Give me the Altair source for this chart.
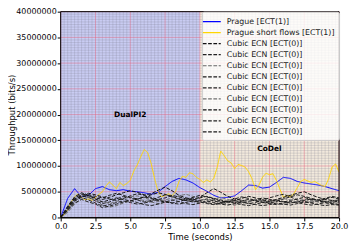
import altair as alt
import pandas as pd

# sample times
t_half = [i * 0.5 for i in range(41)]
t_quarter = [i * 0.25 for i in range(81)]

# throughput values in Mbit/s
prague = [0, 3.7, 5.6, 4.0, 4.3, 5.6, 6.0, 5.4, 5.2, 5.4, 5.1, 5.0, 4.8, 4.5, 4.9,
          6.0, 7.0, 7.6, 7.3, 6.7, 5.8, 5.1, 4.3, 3.8, 3.9, 4.2, 5.2, 6.3, 6.2, 5.7,
          5.9, 6.8, 7.8, 7.6, 7.0, 6.7, 6.5, 6.3, 6.0, 5.6, 5.2]
short_flows = [0, 0.5, 1.5, 3.0, 4.0, 4.6, 4.0, 3.4, 3.6, 3.3, 3.9, 4.5, 5.0, 6.1, 6.9,
               6.3, 5.6, 6.8, 6.2, 6.6, 7.2, 9.0, 10.2, 11.8, 13.2, 12.6, 10.5, 7.5, 5.0,
               4.0, 4.3, 4.6, 4.2, 5.0, 7.0, 8.0, 7.8, 8.7, 8.5, 7.8, 7.4, 6.8, 7.3, 6.9,
               7.6, 9.8, 12.9, 12.0, 11.0, 10.6, 9.5, 10.3, 10.1, 9.8, 8.9, 7.5, 5.4, 6.3,
               7.8, 8.6, 8.3, 8.5, 7.2, 5.5, 3.9, 4.3, 4.0, 4.6, 5.8, 7.0, 7.4, 7.1, 6.8,
               7.0, 6.6, 6.2, 6.0, 7.5, 9.8, 10.4, 8.8]
cubic = [
    [0, 2.0, 3.8, 4.5, 4.2, 3.8, 3.5, 3.9, 4.4, 4.8, 5.2, 4.9, 4.4, 4.6, 5.3, 5.9, 5.2, 4.3, 3.8, 3.6,
     3.9, 4.8, 5.6, 4.9, 4.1, 3.6, 3.3, 3.1, 3.4, 3.8, 3.5, 3.2, 3.0, 3.3, 3.6, 3.9, 3.5, 3.2, 3.0, 3.2, 3.4],
    [0, 1.6, 3.4, 4.2, 3.9, 3.2, 2.7, 3.0, 3.6, 4.1, 3.8, 3.4, 3.0, 3.3, 3.9, 4.4, 4.1, 3.6, 3.3, 3.5,
     3.2, 2.9, 2.6, 2.8, 3.1, 3.3, 3.0, 2.7, 2.9, 3.4, 3.8, 4.2, 4.5, 4.0, 3.4, 3.1, 2.9, 3.2, 3.6, 3.9, 3.6],
    [0, 1.2, 3.0, 4.6, 4.0, 3.3, 2.4, 2.0, 2.3, 2.8, 3.2, 3.5, 3.3, 3.0, 2.7, 2.9, 3.3, 3.7, 3.5, 3.1,
     2.8, 3.0, 3.3, 3.0, 2.6, 2.4, 2.7, 3.1, 3.4, 3.2, 2.9, 2.6, 2.5, 2.8, 3.2, 3.5, 3.3, 3.0, 2.8, 2.6, 2.9],
    [0, 1.8, 3.6, 4.0, 4.4, 4.1, 3.8, 4.3, 4.7, 4.3, 3.9, 3.6, 3.9, 4.4, 4.8, 4.5, 4.0, 3.6, 3.3, 3.0,
     3.3, 3.6, 3.2, 2.9, 3.2, 3.6, 4.0, 3.7, 3.3, 3.0, 2.8, 3.1, 3.6, 4.0, 4.4, 4.1, 3.7, 3.4, 3.7, 4.1, 3.8],
    [0, 1.4, 3.2, 3.9, 3.4, 2.8, 2.2, 2.5, 2.9, 3.2, 2.9, 2.6, 2.8, 3.1, 3.5, 3.2, 2.8, 2.6, 2.9, 3.3,
     3.0, 2.7, 2.5, 2.7, 3.0, 2.8, 2.5, 2.3, 2.6, 2.9, 2.7, 2.5, 2.8, 3.1, 2.9, 2.6, 2.4, 2.6, 2.9, 2.7, 2.5],
    [0, 1.0, 2.6, 3.6, 3.9, 3.5, 3.1, 2.7, 3.1, 3.6, 4.0, 4.2, 3.8, 3.4, 3.1, 3.4, 3.8, 4.2, 4.5, 4.1,
     3.6, 3.3, 3.6, 3.9, 3.5, 3.1, 2.9, 3.2, 3.6, 3.3, 3.0, 3.3, 3.7, 3.4, 3.0, 2.8, 3.1, 3.4, 3.2, 3.0, 3.3],
    [0, 2.2, 4.0, 4.8, 4.3, 3.6, 3.0, 3.4, 3.8, 3.5, 3.2, 3.6, 4.0, 3.7, 3.3, 3.0, 2.8, 3.1, 3.5, 3.9,
     4.3, 4.0, 3.6, 3.2, 3.0, 3.3, 3.7, 4.1, 3.8, 3.4, 3.2, 3.5, 3.9, 4.3, 4.7, 5.0, 4.4, 3.9, 3.5, 3.3, 3.1],
    [0, 1.5, 2.8, 3.5, 3.0, 2.6, 1.9, 2.2, 2.6, 3.0, 3.3, 2.9, 2.5, 2.3, 2.6, 3.0, 3.4, 3.1, 2.7, 2.5,
     2.8, 3.2, 2.9, 2.6, 2.4, 2.7, 3.0, 2.8, 2.5, 2.3, 2.5, 2.8, 2.6, 2.4, 2.7, 3.0, 2.8, 2.5, 2.3, 2.5, 2.4],
    [0, 1.9, 3.5, 4.3, 4.7, 4.4, 4.0, 3.6, 3.3, 3.7, 4.2, 4.6, 4.3, 3.9, 3.5, 3.8, 4.3, 4.0, 3.6, 3.4,
     3.8, 4.1, 3.7, 3.4, 3.1, 2.9, 3.2, 3.5, 3.2, 2.9, 3.1, 3.4, 3.1, 2.8, 3.0, 3.3, 3.6, 3.4, 3.1, 2.9, 3.2],
]

series_names = ["Prague [ECT(1)]", "Prague short flows [ECT(1)]"] + \
    [f"Cubic ECN [ECT(0)] {i + 1}" for i in range(9)]
series_colors = ["#0000ff", "#ffd500", "#111111", "#222222", "#666666", "#1a1a1a",
                 "#222222", "#707070", "#111111", "#222222", "#1a1a1a"]
series_dash = [[1, 0], [1, 0]] + [[3.7, 1.6]] * 9

regions = ["DualPI2", "CoDel"]
region_start = [0, 10]
region_end = [10, 20]
region_colors = ["#c9ccf2", "#f3eadd"]
label_t = [5, 15]
label_v = [20e6, 13.3e6]

x_ticks = [i * 2.5 for i in range(9)]
y_ticks = [i * 5e6 for i in range(9)]
minor_x = [i * 0.25 for i in range(81) if i % 10 != 0]
minor_y = [i * 0.5e6 for i in range(81) if i % 10 != 0]

rows = []
for t, v in zip(t_half, prague):
    rows.append({"t": t, "v": v * 1e6, "s": series_names[0]})
for t, v in zip(t_quarter, short_flows):
    rows.append({"t": t, "v": v * 1e6, "s": series_names[1]})
for k, ser in enumerate(cubic):
    for t, v in zip(t_half, ser):
        rows.append({"t": t, "v": v * 1e6, "s": series_names[2 + k]})
df = pd.DataFrame(rows)

FONT = "DejaVu Sans"
W, H = 280, 207
xs = alt.Scale(domain=[0, 20], nice=False, zero=False)
ys = alt.Scale(domain=[0, 40e6], nice=False)
common_axis = dict(grid=False, labelFont=FONT, titleFont=FONT, labelFontSize=8, titleFontSize=8.5,
                   titleFontWeight="normal", labelColor="black", titleColor="black",
                   domainColor="black", tickColor="black", tickSize=3.5,
                   labelFlush=False)
x_axis = alt.Axis(values=x_ticks, format=".1f", title="Time (seconds)", titlePadding=2,
                  labelPadding=1.5, **common_axis)
y_axis = alt.Axis(values=y_ticks, format="d", title="Throughput (bits/s)", labelPadding=1,
                  titleX=-49, titleY=H / 2, titleBaseline="middle", titleAngle=270, **common_axis)


def X(field, **kw):
    return alt.X(field, scale=xs, axis=x_axis, **kw)


def Y(field, **kw):
    return alt.Y(field, scale=ys, axis=y_axis, **kw)


bg = alt.Chart(pd.DataFrame({"r": regions, "a": region_start, "b": region_end})).mark_rect().encode(
    x=X("a:Q"), x2="b:Q",
    y=alt.Y(datum=0, scale=ys, axis=y_axis), y2=alt.datum(40e6),
    fill=alt.Fill("r:N", scale=alt.Scale(domain=regions, range=region_colors), legend=None),
)

gx_minor = alt.Chart(pd.DataFrame({"g": minor_x})).mark_rule(
    color="#7a7a8a", opacity=0.45, strokeWidth=0.5).encode(x=X("g:Q"))
gy_minor = alt.Chart(pd.DataFrame({"g": minor_y})).mark_rule(
    color="#7a7a8a", opacity=0.45, strokeWidth=0.5).encode(y=Y("g:Q"))
gx_major = alt.Chart(pd.DataFrame({"g": x_ticks})).mark_rule(
    color="#e0607a", opacity=0.6, strokeWidth=0.8).encode(x=X("g:Q"))
gy_major = alt.Chart(pd.DataFrame({"g": y_ticks})).mark_rule(
    color="#e0607a", opacity=0.6, strokeWidth=0.8).encode(y=Y("g:Q"))

lines = alt.Chart(df).mark_line(strokeWidth=1, clip=True).encode(
    x=X("t:Q"),
    y=Y("v:Q"),
    color=alt.Color("s:N", scale=alt.Scale(domain=series_names, range=series_colors),
                    legend=alt.Legend(title=None, orient="top-right", offset=0,
                                      labelExpr="indexof(datum.label, 'Cubic') === 0 ? 'Cubic ECN [ECT(0)]' : datum.label",
                                      symbolType="M-1.8,0L1.8,0", symbolSize=100, symbolStrokeWidth=1.2,
                                      labelFont=FONT, labelFontSize=7.9, labelColor="#222222",
                                      fillColor="rgba(255,255,255,0.8)", strokeColor="#cccccc",
                                      padding=4, rowPadding=1.1, cornerRadius=2, labelOffset=9,
                                      symbolOffset=0, labelLimit=300)),
    strokeDash=alt.StrokeDash("s:N", scale=alt.Scale(domain=series_names, range=series_dash)),
    order=alt.Order("t:Q"),
)

labels = alt.Chart(pd.DataFrame({"r": regions, "t": label_t, "v": label_v})).mark_text(
    font=FONT, fontSize=7.5, fontWeight="bold", color="black").encode(
    x=X("t:Q"), y=Y("v:Q"), text="r:N")

frame = alt.Chart(pd.DataFrame({"a": [0]})).mark_rect(filled=False, stroke="black", strokeWidth=1).encode(
    x=alt.X(datum=0, scale=xs, axis=x_axis), x2=alt.datum(20),
    y=alt.Y(datum=0, scale=ys, axis=y_axis), y2=alt.datum(40e6))

chart = alt.layer(bg, gx_minor, gy_minor, gx_major, gy_major, labels, lines, frame).properties(
    width=W, height=H,
    autosize=alt.AutoSizeParams(type="none"),
    padding={"left": 53, "top": 3, "right": 10, "bottom": 25},
).configure_view(stroke=None).configure(background="white")

chart.save("out.html", embed_options={"renderer": "svg", "actions": False})
